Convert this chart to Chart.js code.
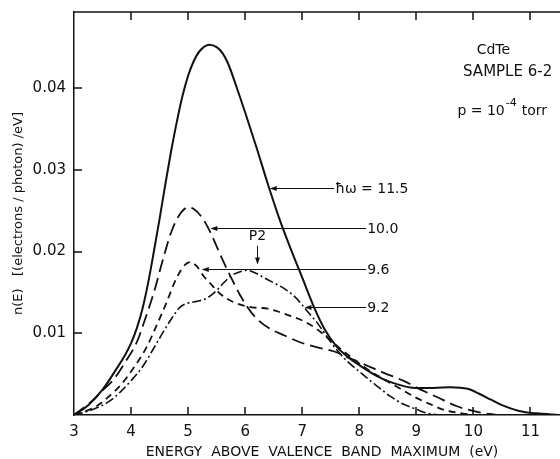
<!DOCTYPE html>
<html>
<head>
<meta charset="utf-8">
<script src="https://cdn.jsdelivr.net/npm/chart.js@4.4.1/dist/chart.umd.min.js"></script>
<style>
  html, body { margin: 0; padding: 0; background: #fff; }
  #wrap { width: 560px; height: 459px; position: relative; }
</style>
</head>
<body>
<div id="wrap"><canvas id="c"></canvas></div>
<script>
// ── Données (CdTe, sample 6-2) ─────────────────────────────────────────────────
const xTicks = [3, 4, 5, 6, 7, 8, 9, 10, 11];
const yTicks = [0.01, 0.02, 0.03, 0.04];

// ħω = 11.5 eV (trait plein)
const e115 = [3.0, 3.25, 3.5, 3.75, 3.9, 4.0, 4.1, 4.2, 4.3, 4.4, 4.5, 4.6, 4.7, 4.8, 4.9, 5.0, 5.1, 5.2, 5.37, 5.5, 5.6, 5.7, 5.85, 6.0, 6.2, 6.4, 6.6, 6.8, 7.0, 7.2, 7.4, 7.6, 7.8, 8.0, 8.3, 8.6, 9.0, 9.3, 9.6, 9.9, 10.1, 10.3, 10.5, 10.8, 11.1, 11.5];
const n115 = [0, 0.0012, 0.0031, 0.0057, 0.0074, 0.0088, 0.0106, 0.0130, 0.0162, 0.0200, 0.0240, 0.0282, 0.0322, 0.0358, 0.0390, 0.0415, 0.0433, 0.0445, 0.0453, 0.0450, 0.0443, 0.0430, 0.0401, 0.0370, 0.0327, 0.0282, 0.0240, 0.0203, 0.0168, 0.0133, 0.0104, 0.0084, 0.0071, 0.0061, 0.0048, 0.0039, 0.0033, 0.0033, 0.0034, 0.0032, 0.0026, 0.0019, 0.0012, 0.0005, 0.0002, 0];

// ħω = 10.0 eV (tirets longs)
const e100 = [3.0, 3.28, 3.5, 3.7, 3.9, 4.1, 4.25, 4.4, 4.55, 4.7, 4.85, 5.0, 5.1, 5.25, 5.4, 5.57, 5.74, 5.9, 6.05, 6.2, 6.4, 6.7, 6.96, 7.25, 7.55, 7.85, 8.15, 8.45, 8.77, 9.05, 9.36, 9.7, 10.05, 10.4];
const n100 = [0, 0.0015, 0.003, 0.0044, 0.0065, 0.0089, 0.0118, 0.015, 0.0188, 0.0223, 0.0245, 0.0254, 0.0252, 0.0241, 0.0222, 0.0195, 0.017, 0.0148, 0.0131, 0.0118, 0.0107, 0.0097, 0.0089, 0.0083, 0.0078, 0.0069, 0.006, 0.0051, 0.0042, 0.0032, 0.0022, 0.0011, 0.0004, 0];

// ħω = 9.6 eV (tirets courts)
const e96 = [3.0, 3.4, 3.6, 3.81, 4.05, 4.28, 4.45, 4.6, 4.8, 4.95, 5.04, 5.15, 5.27, 5.4, 5.55, 5.8, 6.1, 6.4, 6.6, 6.8, 7.05, 7.26, 7.45, 7.6, 7.85, 8.14, 8.45, 8.72, 9.0, 9.25, 9.5, 9.8, 10.0];
const n96 = [0, 0.0011, 0.0022, 0.0036, 0.0058, 0.0084, 0.011, 0.0134, 0.0168, 0.0184, 0.0187, 0.0182, 0.017, 0.016, 0.0149, 0.0138, 0.0132, 0.013, 0.0126, 0.0121, 0.0114, 0.0105, 0.0094, 0.0085, 0.0071, 0.0056, 0.0043, 0.0032, 0.0021, 0.0013, 0.0006, 0.0002, 0];

// ħω = 9.2 eV (tiret-point)
const e92 = [3.0, 3.34, 3.6, 3.81, 4.0, 4.21, 4.4, 4.56, 4.72, 4.86, 5.0, 5.15, 5.3, 5.45, 5.6, 5.75, 5.9, 6.03, 6.2, 6.38, 6.55, 6.7, 6.85, 6.96, 7.1, 7.26, 7.45, 7.6, 7.8, 8.02, 8.3, 8.54, 8.75, 9.0, 9.2, 9.4];
const n92 = [0, 0.0007, 0.0016, 0.0028, 0.0042, 0.006, 0.0082, 0.0101, 0.0119, 0.0132, 0.0137, 0.0139, 0.0142, 0.0149, 0.016, 0.017, 0.0175, 0.0177, 0.0173, 0.0166, 0.016, 0.0154, 0.0146, 0.0138, 0.0126, 0.0113, 0.0094, 0.008, 0.0065, 0.0052, 0.0036, 0.0023, 0.0014, 0.0007, 0.0002, 0];

const INK = "#111";
const FONT = "'DejaVu Sans'";

// ── Helpers ───────────────────────────────────────────────────────────────────
function pts(xs, ys) {
    return xs.map((x, i) => ({ x, y: ys[i] }));
}

function serie(label, xs, ys, dash, width) {
    return {
        label,
        data: pts(xs, ys),
        borderColor: INK,
        borderWidth: width,
        borderDash: dash,
        pointRadius: 0,
        cubicInterpolationMode: 'monotone',
        fill: false,
    };
}

// repères (en unités de données) pour les légendes fléchées
const pointers = [
    { text: "ħω = 11.5", y: 0.0278, from: 6.43, to: 7.56 },
    { text: "10.0",      y: 0.0229, from: 5.39, to: 8.12 },
    { text: "9.6",       y: 0.0179, from: 5.24, to: 8.12 },
    { text: "9.2",       y: 0.0132, from: 7.04, to: 8.12 },
];

function arrowLeft(ctx, x, y) {
    ctx.beginPath();
    ctx.moveTo(x, y);
    ctx.lineTo(x + 7, y - 2.5);
    ctx.lineTo(x + 7, y + 2.5);
    ctx.closePath();
    ctx.fill();
}

const decor = {
    id: 'decor',
    afterDraw(chart) {
        const { ctx, chartArea: a, scales: { x, y } } = chart;
        ctx.save();
        ctx.strokeStyle = INK;
        ctx.fillStyle = INK;

        // cadre haut
        ctx.lineWidth = 1.5;
        ctx.beginPath();
        ctx.moveTo(a.left, a.top);
        ctx.lineTo(a.right + 2, a.top);
        ctx.stroke();

        // graduations rentrantes
        ctx.lineWidth = 1.5;
        ctx.beginPath();
        xTicks.slice(1).forEach(v => {
            const px = Math.round(x.getPixelForValue(v));
            ctx.moveTo(px, a.bottom); ctx.lineTo(px, a.bottom - 8);
            ctx.moveTo(px, a.top);    ctx.lineTo(px, a.top + 8);
        });
        yTicks.forEach(v => {
            const py = Math.round(y.getPixelForValue(v));
            ctx.moveTo(a.left, py); ctx.lineTo(a.left + 8, py);
        });
        ctx.stroke();

        // légendes fléchées
        ctx.font = `14px ${FONT}`;
        ctx.textBaseline = 'middle';
        ctx.lineWidth = 1;
        pointers.forEach(p => {
            const py = Math.round(y.getPixelForValue(p.y)) + 0.5;
            const x0 = x.getPixelForValue(p.from);
            const x1 = x.getPixelForValue(p.to);
            ctx.beginPath();
            ctx.moveTo(x0 + 4, py);
            ctx.lineTo(x1, py);
            ctx.stroke();
            arrowLeft(ctx, x0, py);
            ctx.fillText(p.text, x1 + 1, py + 1);
        });

        // P2
        const p2x = Math.round(x.getPixelForValue(6.21)) + 0.5;
        ctx.textAlign = 'center';
        ctx.fillText("P2", p2x, y.getPixelForValue(0.0219));
        const yA = y.getPixelForValue(0.0207), yB = y.getPixelForValue(0.0184);
        ctx.beginPath();
        ctx.moveTo(p2x, yA); ctx.lineTo(p2x, yB - 5);
        ctx.stroke();
        ctx.beginPath();
        ctx.moveTo(p2x, yB);
        ctx.lineTo(p2x - 2.5, yB - 7);
        ctx.lineTo(p2x + 2.5, yB - 7);
        ctx.closePath();
        ctx.fill();

        // bloc d'info en haut à droite
        ctx.fillText("CdTe", x.getPixelForValue(10.35), y.getPixelForValue(0.0446));
        ctx.font = `15px ${FONT}`;
        ctx.fillText("SAMPLE 6-2", x.getPixelForValue(10.6), y.getPixelForValue(0.0419));
        ctx.font = `14px ${FONT}`;
        ctx.textAlign = 'left';
        const bx = x.getPixelForValue(9.72), by = y.getPixelForValue(0.0372);
        ctx.fillText("p = 10", bx, by);
        const w1 = ctx.measureText("p = 10").width;
        ctx.font = `11px ${FONT}`;
        ctx.fillText("-4", bx + w1 + 1, by - 8);
        ctx.font = `14px ${FONT}`;
        ctx.fillText("torr", bx + w1 + 17, by);

        // titre de l'axe x
        ctx.textAlign = 'center';
        ctx.font = `14px ${FONT}`;
        ctx.fillText("ENERGY  ABOVE  VALENCE  BAND  MAXIMUM  (eV)", 322, a.bottom + 37);

        ctx.restore();
    }
};

// ── Chart ─────────────────────────────────────────────────────────────────────
new Chart(document.getElementById('c'), {
    type: 'line',
    data: {
        datasets: [
            serie("ħω = 11.5", e115, n115, [], 2),
            serie("10.0", e100, n100, [13, 6], 1.8),
            serie("9.6", e96, n96, [7, 5], 1.8),
            serie("9.2", e92, n92, [9, 3, 2, 3], 1.6),
        ],
    },
    options: {
        responsive: true,
        maintainAspectRatio: false,
        animation: false,
        layout: { padding: { top: 12, right: 1, left: 0, bottom: 0 } },
        plugins: { legend: { display: false }, tooltip: { enabled: false } },
        scales: {
            x: {
                type: 'linear',
                min: 3,
                max: 11.5,
                grid: { display: false, drawTicks: false },
                border: { display: true, color: INK, width: 1.5 },
                afterBuildTicks: s => { s.ticks = xTicks.map(v => ({ value: v })); },
                afterFit: s => { s.height = 44; s.paddingLeft = 0; s.paddingRight = 0; },
                ticks: { color: INK, font: { family: FONT, size: 15 }, padding: 8, maxRotation: 0, callback: v => String(v) },
            },
            y: {
                min: 0,
                max: 0.0493,
                grid: { display: false, drawTicks: false },
                border: { display: true, color: INK, width: 1.5 },
                afterBuildTicks: s => { s.ticks = yTicks.map(v => ({ value: v })); },
                afterFit: s => { s.width = 74; s.paddingTop = 0; s.paddingBottom = 0; },
                ticks: { color: INK, font: { family: FONT, size: 15 }, padding: 8, callback: v => v.toFixed(2) },
                title: {
                    display: true,
                    text: "n(E)   [(electrons / photon) /eV]",
                    color: INK,
                    font: { family: FONT, size: 13 },
                    padding: { top: 11, bottom: 0 },
                },
            },
        },
    },
    plugins: [decor],
});
</script>
</body>
</html>
